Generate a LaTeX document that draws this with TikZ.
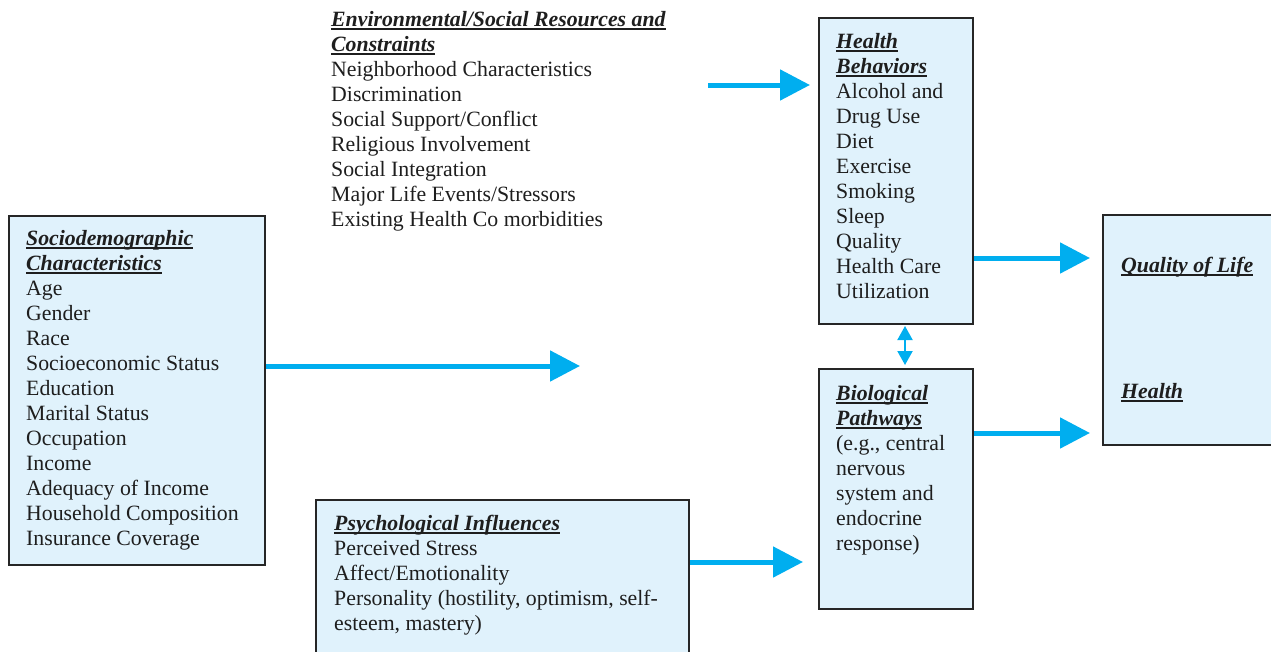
\documentclass[tikz,border=0pt]{standalone}
\usepackage{fontspec}
\setmainfont{Liberation Serif}
\usetikzlibrary{arrows.meta}
\definecolor{boxfill}{HTML}{E0F2FC}
\definecolor{boxline}{HTML}{262626}
\definecolor{arrowcol}{HTML}{00AEEF}
\definecolor{txt}{HTML}{1E1E1E}
\newsavebox\hdbox
\newcommand\hd[1]{\sbox\hdbox{\textbf{\textit{#1}}}\rlap{\rule[-3.8pt]{\wd\hdbox}{1.8pt}}\usebox\hdbox}
\newcommand\body{\fontsize{21.8pt}{25pt}\selectfont\color{txt}}
\tikzset{
  box/.style={draw=boxline, line width=2pt, fill=boxfill, inner sep=0pt, anchor=north west},
  txtnode/.style={anchor=base west, inner sep=0pt, font=\body},
  bigarrow/.style={draw=arrowcol, line width=5pt, -{Triangle[length=30pt, width=30pt]}},
  dblarrow/.style={draw=arrowcol, line width=2pt, {Triangle[length=14pt, width=15pt]}-{Triangle[length=14pt, width=15pt]}}
}
\begin{document}
\begin{tikzpicture}[x=1pt, y=-1pt]
\useasboundingbox (0,0) rectangle (1271,651);
% boxes
\node[box, minimum width=256pt, minimum height=349pt] (socio) at (8,215) {};
\node[box, minimum width=154pt, minimum height=306pt] (hb) at (818,17) {};
\node[box, minimum width=154pt, minimum height=240pt] (bio) at (818,368) {};
\node[box, minimum width=180pt, minimum height=230pt] (qol) at (1102,214) {};
\node[box, minimum width=373pt, minimum height=170pt] (psych) at (315,499) {};
% texts
\node[txtnode] (sociotxt) at (26,245) {\begin{tabular}[t]{@{}l@{}}
\hd{Sociodemographic}\\ \hd{Characteristics}\\ Age\\ Gender\\ Race\\ Socioeconomic Status\\ Education\\ Marital Status\\ Occupation\\ Income\\ Adequacy of Income\\ Household Composition\\ Insurance Coverage\end{tabular}};
\node[txtnode] (env) at (331,26) {\begin{tabular}[t]{@{}l@{}}
\hd{Environmental/Social Resources and}\\ \hd{Constraints}\\ Neighborhood Characteristics\\ Discrimination\\ Social Support/Conflict\\ Religious Involvement\\ Social Integration\\ Major Life Events/Stressors\\ Existing Health Co morbidities\end{tabular}};
\node[txtnode] (hbtxt) at (836,48) {\begin{tabular}[t]{@{}l@{}}
\hd{Health}\\ \hd{Behaviors}\\ Alcohol and\\ Drug Use\\ Diet\\ Exercise\\ Smoking\\ Sleep\\ Quality\\ Health Care\\ Utilization\end{tabular}};
\node[txtnode] (biotxt) at (836,400) {\begin{tabular}[t]{@{}l@{}}
\hd{Biological}\\ \hd{Pathways}\\ (e.g., central\\ nervous\\ system and\\ endocrine\\ response)\end{tabular}};
\node[txtnode] (qoltxt) at (1121,272) {\hd{Quality of Life}};
\node[txtnode] (healthtxt) at (1121,398) {\hd{Health}};
\node[txtnode] (psychtxt) at (334,530) {\begin{tabular}[t]{@{}l@{}}
\hd{Psychological Influences}\\ Perceived Stress\\ Affect/Emotionality\\ Personality (hostility, optimism, self-\\ esteem, mastery)\end{tabular}};
% arrows
\coordinate (envout) at (708,85);
\coordinate (socioend) at (580,366);
\draw[bigarrow, shorten >=8pt] (envout) -- (envout -| hb.west);
\draw[bigarrow] (socioend -| socio.east) -- (socioend);
\coordinate (hbq) at (972,258);
\draw[bigarrow, shorten >=12pt] (hbq -| hb.east) -- (hbq -| qol.west);
\coordinate (bioh) at (972,433);
\draw[bigarrow, shorten >=12pt] (bioh -| bio.east) -- (bioh -| qol.west);
\coordinate (psb) at (688,562);
\draw[bigarrow, shorten >=15pt] (psb -| psych.east) -- (psb -| bio.west);
\coordinate (dbl) at (905,340);
\draw[dblarrow, shorten <=1pt, shorten >=3pt] (dbl |- hb.south) -- (dbl |- bio.north);
\end{tikzpicture}
\end{document}
